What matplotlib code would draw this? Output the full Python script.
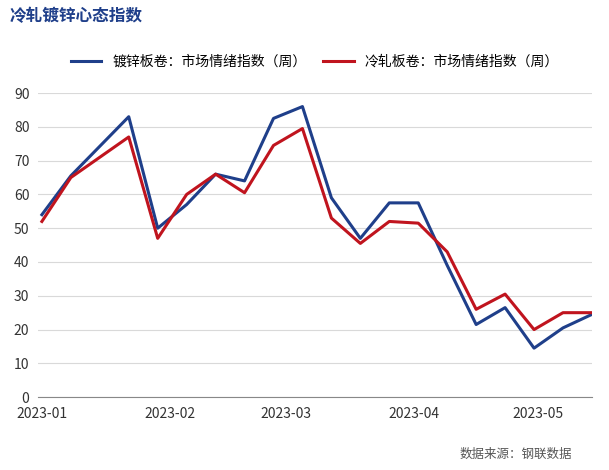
import matplotlib
matplotlib.use("Agg")
import matplotlib.pyplot as plt
import matplotlib.dates as mdates
import pandas as pd

plt.rcParams["font.family"] = ["Noto Sans CJK SC", "DejaVu Sans"]

dates = pd.to_datetime(["2023-01-01","2023-01-08","2023-01-22","2023-01-29","2023-02-05",
    "2023-02-12","2023-02-19","2023-02-26","2023-03-05","2023-03-12","2023-03-19",
    "2023-03-26","2023-04-02","2023-04-09","2023-04-16","2023-04-23","2023-04-30",
    "2023-05-07","2023-05-14"])
galv = [54,65.5,83,50,57,66,64,82.5,86,59,47,57.5,57.5,39,21.5,26.5,14.5,20.5,24.5]
cold = [52,65,77,47,60,66,60.5,74.5,79.5,53,45.5,52,51.5,43,26,30.5,20,25,25]
labels = ["镀锌板卷：市场情绪指数（周）", "冷轧板卷：市场情绪指数（周）"]

fig = plt.figure(figsize=(6.09,4.70), dpi=100)
ax = fig.add_axes([0.062,0.155,0.91,0.647])
ax.plot(dates, galv, color="#1f3f8a", lw=2.2, label=labels[0])
ax.plot(dates, cold, color="#c0141e", lw=2.2, label=labels[1])
ax.set_ylim(0,90)
ax.set_yticks(range(0,91,10))
ax.set_xlim(pd.Timestamp("2023-01-01")-pd.Timedelta(days=1), pd.Timestamp("2023-05-14"))
ax.xaxis.set_major_locator(mdates.MonthLocator())
ax.xaxis.set_major_formatter(mdates.DateFormatter("%Y-%m"))
ax.grid(axis="y", color="#d9d9d9", lw=0.8)
for s in ["top","right","left"]:
    ax.spines[s].set_visible(False)
ax.spines["bottom"].set_color("#888888")
ax.tick_params(axis="y", length=0, labelsize=10, colors="#333333", pad=6)
ax.tick_params(axis="x", labelsize=10, colors="#333333", length=0, pad=7)
ax.legend(loc="lower center", bbox_to_anchor=(0.5,1.04), ncol=2, frameon=False,
          fontsize=10, handlelength=2.2, columnspacing=1.2)
fig.text(0.015,0.965,"冷轧镀锌心态指数", fontsize=12, fontweight="bold", color="#1f3f8a", va="center")
fig.text(0.94,0.025,"数据来源：钢联数据", fontsize=9, color="#555555", ha="right")
fig.savefig("out.png", dpi=100)
